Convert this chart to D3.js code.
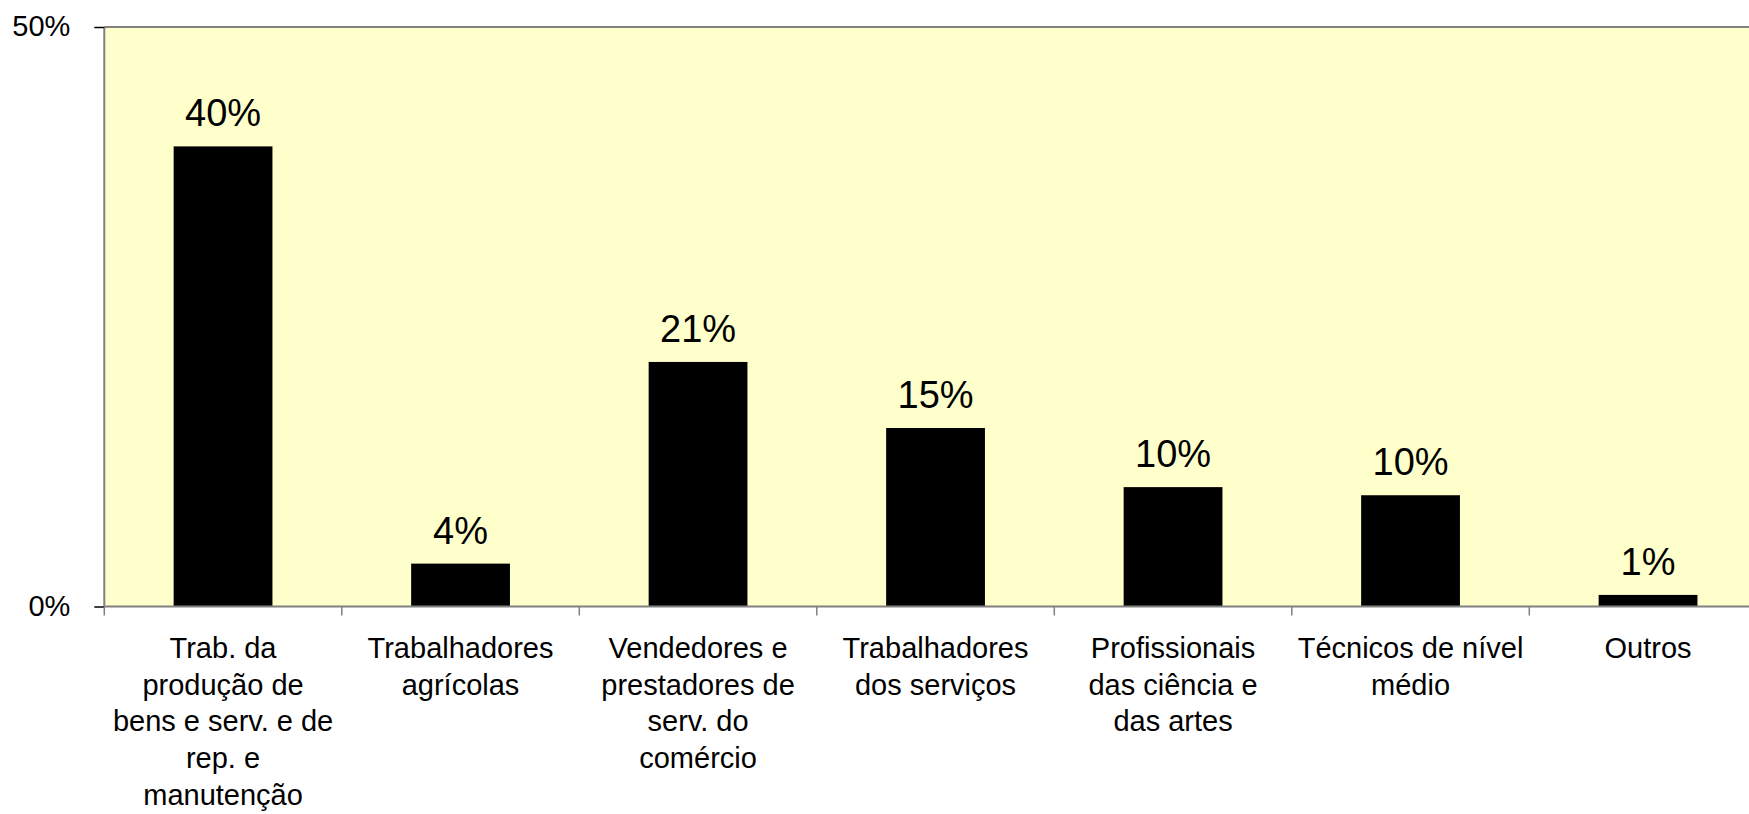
<!DOCTYPE html>
<html>
<head>
<meta charset="utf-8">
<script src="https://cdn.jsdelivr.net/npm/d3@7"></script>
<style>
  html, body { margin: 0; padding: 0; background: #fff; overflow: hidden; }
  svg { display: block; font-family: "Liberation Sans", Arial, sans-serif; }
</style>
</head>
<body>
<svg id="chart" width="1749" height="814"></svg>
<script>
const categories = [
  "Trab. da\nprodução de\nbens e serv. e de\nrep. e\nmanutenção",
  "Trabalhadores\nagrícolas",
  "Vendedores e\nprestadores de\nserv. do\ncomércio",
  "Trabalhadores\ndos serviços",
  "Profissionais\ndas ciência e\ndas artes",
  "Técnicos de nível\nmédio",
  "Outros"
];
const values = [39.7, 3.7, 21.1, 15.4, 10.3, 9.6, 1.0];
const valueLabels = ["40%", "4%", "21%", "15%", "10%", "10%", "1%"];
const yTicks = [0, 50];
const yTickLabels = ["0%", "50%"];

const svg = d3.select("#chart");
const mLeft = 104.3, mTop = 27, mBottom = 606.5, step = 237.5;
const mRight = mLeft + step * categories.length;

const x = d3.scaleBand().domain(d3.range(categories.length)).range([mLeft, mRight])
  .paddingInner(0.584).paddingOuter(0.292);
const y = d3.scaleLinear().domain([0, 50]).range([mBottom, mTop]);

// plot background
svg.append("rect").attr("x", mLeft).attr("y", mTop)
  .attr("width", mRight - mLeft).attr("height", mBottom - mTop)
  .attr("fill", "#FFFFCC");

// bars
svg.selectAll("rect.bar").data(values).join("rect").attr("class", "bar")
  .attr("x", (d, i) => x(i)).attr("width", x.bandwidth())
  .attr("y", d => y(d)).attr("height", d => y(0) - y(d))
  .attr("fill", "#000");

// value labels
svg.selectAll("text.val").data(values).join("text").attr("class", "val")
  .attr("x", (d, i) => x(i) + x.bandwidth() / 2)
  .attr("y", d => y(d) - 20)
  .attr("text-anchor", "middle").attr("font-size", 38).attr("fill", "#000")
  .text((d, i) => valueLabels[i]);

// borders
svg.append("line").attr("x1", mLeft).attr("x2", mRight).attr("y1", mTop).attr("y2", mTop)
  .attr("stroke", "#808080").attr("stroke-width", 2);
svg.append("line").attr("x1", mLeft).attr("x2", mLeft).attr("y1", mTop).attr("y2", mBottom)
  .attr("stroke", "#808080").attr("stroke-width", 2);

// y axis
const yAxis = d3.axisLeft(y).tickValues(yTicks).tickSize(10).tickPadding(24)
  .tickFormat((d, i) => yTickLabels[i]);
const gy = svg.append("g").attr("transform", `translate(${mLeft},0)`).call(yAxis);
gy.select(".domain").remove();
gy.selectAll(".tick line").attr("stroke", "#000").attr("stroke-width", 1.5);
gy.selectAll(".tick text").attr("font-size", 29).attr("fill", "#000")
  .attr("font-family", "Liberation Sans, Arial, sans-serif").attr("dy", "0.3em");

// x axis
const xLin = d3.scaleLinear().domain([0, categories.length]).range([mLeft, mRight]);
svg.append("line").attr("x1", mLeft).attr("x2", mRight).attr("y1", mBottom).attr("y2", mBottom)
  .attr("stroke", "#808080").attr("stroke-width", 2);
svg.selectAll("line.xt").data(d3.range(categories.length + 1)).join("line").attr("class", "xt")
  .attr("x1", d => xLin(d)).attr("x2", d => xLin(d))
  .attr("y1", mBottom).attr("y2", mBottom + 9)
  .attr("stroke", "#808080").attr("stroke-width", 1.5);

const labels = svg.selectAll("text.cat").data(categories).join("text").attr("class", "cat")
  .attr("text-anchor", "middle").attr("font-size", 29).attr("fill", "#000");
labels.each(function(d, i) {
  const t = d3.select(this);
  d.split("\n").forEach((ln, j) => {
    t.append("tspan").attr("x", x(i) + x.bandwidth() / 2)
      .attr("y", 658 + j * 36.7).text(ln);
  });
});
</script>
</body>
</html>
